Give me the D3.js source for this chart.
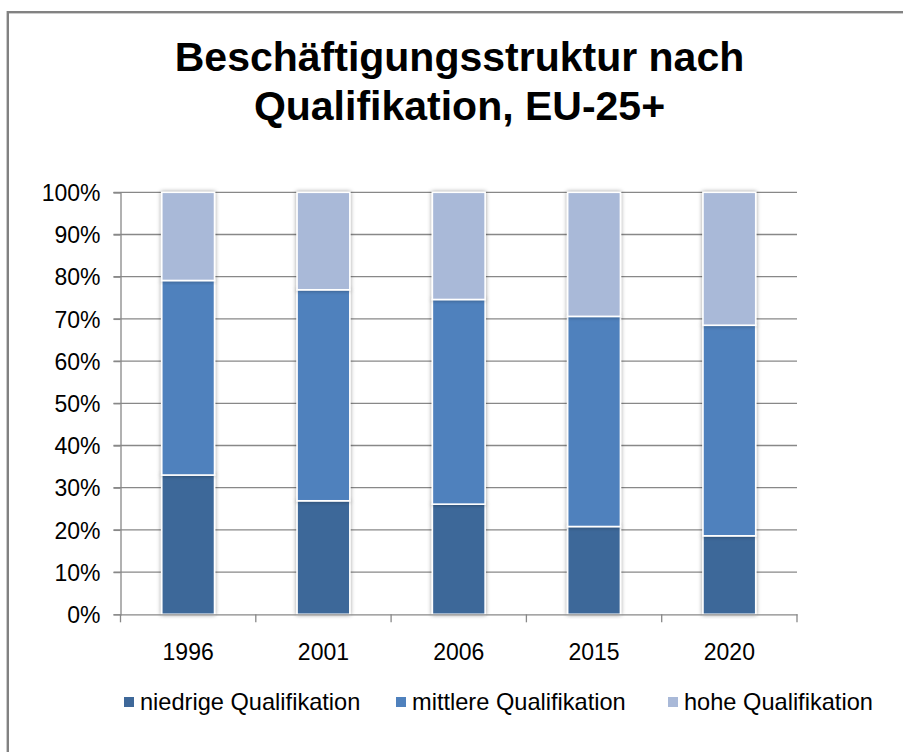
<!DOCTYPE html>
<html>
<head>
<meta charset="utf-8">
<script src="https://cdn.jsdelivr.net/npm/d3@7"></script>
<style>
    body { margin: 0; background: #fff; }
    svg { display: block; font-family: "Liberation Sans", Arial, sans-serif; }
</style>
</head>
<body>
<div id="dataChart"></div>
<script>
const years = ['1996', '2001', '2006', '2015', '2020']
const seriesNames = ['niedrige Qualifikation', 'mittlere Qualifikation', 'hohe Qualifikation']
const lowShare = [33.0, 26.9, 26.1, 20.8, 18.6]
const midShare = [46.1, 50.0, 48.5, 49.8, 49.9]
const highShare = [20.9, 23.1, 25.4, 29.4, 31.5]
const yTicks = [0, 10, 20, 30, 40, 50, 60, 70, 80, 90, 100]
const titleLines = ['Beschäftigungsstruktur nach', 'Qualifikation, EU-25+']

document.addEventListener('DOMContentLoaded', () => {
    draw()
});

function draw() {
    const viewBoxWidth = 903
    const viewBoxHeight = 752
    const plotLeft = 120.5
    const plotRight = 797
    const plotTop = 192.3
    const plotBottom = 614.3
    const colours = ['#3e6899', '#4f81bd', '#a9b9d8']
    const gridColour = '#888'

    const svg = d3.select('#dataChart')
        .append('svg')
        .attr('width', viewBoxWidth)
        .attr('height', viewBoxHeight)
        .attr('viewBox', [0, 0, viewBoxWidth, viewBoxHeight])

    const defs = svg.append('defs')
    defs.append('filter')
        .attr('id', 'barShadow')
        .attr('x', '-20%').attr('y', '-5%')
        .attr('width', '140%').attr('height', '110%')
        .append('feDropShadow')
        .attr('dx', 0).attr('dy', 0)
        .attr('stdDeviation', 2.2)
        .attr('flood-color', '#000')
        .attr('flood-opacity', 0.4)

    // outer frame (open on right and bottom, runs off the page)
    svg.append('rect')
        .attr('x', 7.8).attr('y', 12.2)
        .attr('width', 1000).attr('height', 1000)
        .attr('fill', 'none')
        .attr('stroke', '#828282')
        .attr('stroke-width', 2.4)

    // Title
    svg.append('g')
        .selectAll('text')
        .data(titleLines)
        .join('text')
        .attr('x', 459.5)
        .attr('y', (d, i) => 71 + i * 49)
        .attr('text-anchor', 'middle')
        .attr('font-size', 41)
        .attr('font-weight', 'bold')
        .attr('fill', '#000')
        .text(d => d)

    // Data
    const rows = years.map((year, i) => ({
        year,
        low: lowShare[i],
        mid: midShare[i],
        high: highShare[i]
    }))
    const stack = d3.stack().keys(['low', 'mid', 'high'])(rows)

    // Scales
    const x = d3.scaleBand()
        .domain(years)
        .range([plotLeft, plotRight])
        .paddingInner(0.61)
        .paddingOuter(0.305)
    const band = d3.scaleBand().domain(years).range([plotLeft, plotRight])
    const y = d3.scaleLinear()
        .domain([0, 100])
        .range([plotBottom, plotTop])

    // Gridlines
    svg.append('g')
        .selectAll('line')
        .data(yTicks.filter(t => t > 0))
        .join('line')
        .attr('x1', plotLeft - 7)
        .attr('x2', plotRight)
        .attr('y1', d => y(d))
        .attr('y2', d => y(d))
        .attr('stroke', gridColour)
        .attr('stroke-width', 1.3)

    // y-axis
    const yAxis = svg.append('g')
        .attr('transform', `translate(${plotLeft}, 0)`)
        .call(d3.axisLeft(y).tickValues(yTicks).tickSize(7).tickPadding(13).tickFormat(d => d + '%'))
    yAxis.select('.domain').attr('stroke', gridColour).attr('stroke-width', 1.3)
    yAxis.selectAll('.tick line').attr('stroke', gridColour).attr('stroke-width', 1.3)
    yAxis.selectAll('.tick text')
        .attr('font-size', 23)
        .attr('font-family', '"Liberation Sans", Arial, sans-serif')
        .attr('fill', '#000')
        .attr('dy', '0.36em')

    // Bars
    svg.append('g')
        .selectAll('g')
        .data(stack)
        .join('g')
        .attr('fill', (d, i) => colours[i])
        .selectAll('rect')
        .data(d => d)
        .join('rect')
        .attr('x', d => x(d.data.year))
        .attr('width', x.bandwidth())
        .attr('y', d => y(d[1]))
        .attr('height', d => y(d[0]) - y(d[1]))
        .attr('stroke', '#fff')
        .attr('stroke-width', 1.6)
        .attr('filter', 'url(#barShadow)')

    // x-axis
    const xAxis = svg.append('g')
        .attr('transform', `translate(0, ${plotBottom})`)
        .call(d3.axisBottom(band).tickSize(0).tickPadding(29))
    xAxis.select('.domain').attr('stroke', gridColour).attr('stroke-width', 1.3)
    xAxis.selectAll('.tick text')
        .attr('font-size', 23)
        .attr('font-family', '"Liberation Sans", Arial, sans-serif')
        .attr('fill', '#000')
    svg.append('g')
        .selectAll('line')
        .data(d3.range(years.length + 1))
        .join('line')
        .attr('x1', i => plotLeft + i * band.step())
        .attr('x2', i => plotLeft + i * band.step())
        .attr('y1', plotBottom)
        .attr('y2', plotBottom + 8)
        .attr('stroke', gridColour)
        .attr('stroke-width', 1.3)

    // Legend
    const legendX = [124, 396, 668]
    const legend = svg.append('g')
        .selectAll('g')
        .data(seriesNames)
        .join('g')
        .attr('transform', (d, i) => `translate(${legendX[i]}, 710)`)
    legend.append('rect')
        .attr('x', 0).attr('y', -13)
        .attr('width', 10).attr('height', 10)
        .attr('fill', (d, i) => colours[i])
    legend.append('text')
        .attr('x', 16)
        .attr('font-size', 23.6)
        .attr('fill', '#000')
        .text(d => d)
}
</script>
</body>
</html>
